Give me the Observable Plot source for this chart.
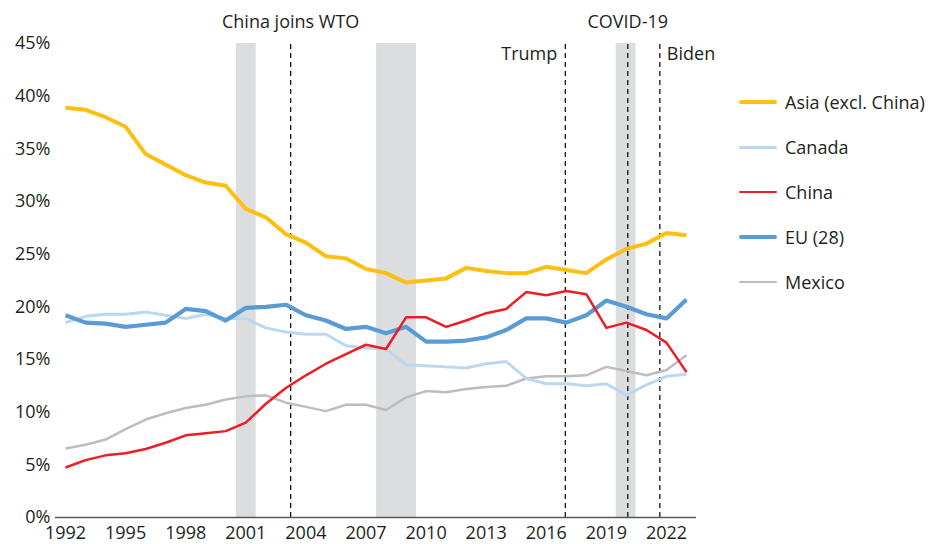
<!DOCTYPE html>
<html><head><meta charset="utf-8">
<script src="https://cdn.jsdelivr.net/npm/d3@7"></script>
<script src="https://cdn.jsdelivr.net/npm/@observablehq/plot@0.6"></script>
<style>
body{margin:0;background:#fff;font-family:"Open Sans",sans-serif;}
#wrap{position:relative;width:933px;height:544px;}
#legend{position:absolute;left:739px;top:0;}
.item{position:absolute;left:0;height:26px;display:flex;align-items:center;white-space:nowrap;font-size:18px;color:#231f20;}
.sw{width:38px;margin-right:8px;border-radius:2px;}
</style></head><body>
<div id="wrap"><div id="chart"></div><div id="legend"></div></div>
<script>
const years = [1992,1993,1994,1995,1996,1997,1998,1999,2000,2001,2002,2003,2004,2005,2006,2007,2008,2009,2010,2011,2012,2013,2014,2015,2016,2017,2018,2019,2020,2021,2022,2023];
const seriesNames = ["Asia (excl. China)","Canada","China","EU (28)","Mexico"];
const asia   = [38.9,38.7,38.0,37.1,34.5,33.5,32.5,31.8,31.5,29.3,28.5,26.9,26.1,24.8,24.6,23.6,23.2,22.3,22.5,22.7,23.7,23.4,23.2,23.2,23.8,23.5,23.2,24.5,25.5,26.0,27.0,26.8];
const canada = [18.5,19.1,19.3,19.3,19.5,19.2,18.9,19.3,18.9,18.9,18.0,17.6,17.4,17.4,16.3,16.1,16.0,14.5,14.4,14.3,14.2,14.6,14.8,13.2,12.7,12.7,12.5,12.7,11.6,12.6,13.4,13.6];
const china  = [4.75,5.45,5.9,6.1,6.5,7.1,7.8,8.0,8.2,9.0,10.8,12.3,13.5,14.6,15.5,16.4,16.0,19.0,19.0,18.1,18.7,19.4,19.8,21.4,21.1,21.5,21.2,18.0,18.5,17.8,16.6,13.8];
const eu     = [19.2,18.5,18.4,18.1,18.3,18.5,19.8,19.6,18.7,19.9,20.0,20.2,19.2,18.7,17.9,18.1,17.5,18.1,16.7,16.7,16.8,17.1,17.8,18.9,18.9,18.5,19.2,20.6,20.0,19.3,18.9,20.7];
const mexico = [6.55,6.9,7.4,8.4,9.3,9.9,10.4,10.7,11.2,11.5,11.6,10.9,10.5,10.1,10.7,10.7,10.2,11.4,12.0,11.9,12.2,12.4,12.5,13.2,13.4,13.4,13.5,14.3,13.9,13.5,14.0,15.4];
const seriesValues = [asia, canada, china, eu, mexico];
const seriesColors = ["#fcbf12","#bcd8f0","#ee1c25","#5b9bd5","#bdbdc1"];
const seriesWidths = [4, 3, 2.5, 4.2, 2.5];
const drawOrder = [4, 1, 3, 2, 0];

const bandStart = [2000.53, 2007.53, 2019.49];
const bandEnd   = [2001.52, 2009.52, 2020.48];
const eventNames = ["China joins WTO","Trump","COVID-19","Biden"];
const eventYears = [2003.24, 2016.95, 2020.07, 2021.67];
const xTicks = [1992,1995,1998,2001,2004,2007,2010,2013,2016,2019,2022];
const yTicks = [0,5,10,15,20,25,30,35,40,45];

const bands = bandStart.map((s,i)=>({x1:s,x2:bandEnd[i]}));
const events = eventNames.map((n,i)=>({name:n,year:eventYears[i]}));
const txt = "#231f20";

const lineMarks = drawOrder.map(k => Plot.line(years.map((y,i)=>({year:y, v:seriesValues[k][i]})), {
  x:"year", y:"v", stroke: seriesColors[k], strokeWidth: seriesWidths[k], strokeLinejoin:"round", strokeLinecap:"butt"
}));

const chart = Plot.plot({
  width: 933, height: 544,
  marginLeft: 55, marginRight: 237, marginTop: 43, marginBottom: 27,
  style: {fontFamily: "'Open Sans', sans-serif", fontSize: "18px", color: txt, background: "#fff"},
  x: {domain: [1991.5, 2023.5]},
  y: {domain: [0, 45]},
  marks: [
    Plot.rect(bands, {x1:"x1", x2:"x2", y1:0, y2:45, fill:"#dcdddf"}),
    Plot.ruleX(events, {x:"year", y1:0, y2:45, stroke:"#111", strokeWidth:1.3, strokeDasharray:"5,4"}),
    Plot.ruleY([0], {stroke:"#58595b", strokeWidth:1.6}),
    ...lineMarks,
    Plot.axisY({ticks: yTicks, tickFormat: d => d + "%", tickSize: 0, tickPadding: 5, label: null, fill: txt}),
    Plot.axisX({ticks: xTicks, tickFormat: d => String(d), tickSize: 0, tickPadding: 9, label: null, fill: txt}),
    Plot.text(events.filter(e=>e.name==="China joins WTO"||e.name==="COVID-19"), {x:"year", text:"name", frameAnchor:"top", lineAnchor:"middle", dy:-21, textAnchor:"middle", fill:txt, fontSize:18}),
    Plot.text(events.filter(e=>e.name==="Trump"), {x:"year", text:"name", frameAnchor:"top", lineAnchor:"middle", dy:11, dx:-8, textAnchor:"end", fill:txt, fontSize:18}),
    Plot.text(events.filter(e=>e.name==="Biden"), {x:"year", text:"name", frameAnchor:"top", lineAnchor:"middle", dy:11, dx:7, textAnchor:"start", fill:txt, fontSize:18})
  ]
});
document.getElementById("chart").appendChild(chart);

const legend = document.getElementById("legend");
seriesNames.forEach((n,i)=>{
  const it = document.createElement("div");
  it.className = "item";
  it.style.top = (102 + i*45 - 13) + "px";
  const sw = document.createElement("span");
  sw.className = "sw";
  sw.style.height = seriesWidths[i] + "px";
  sw.style.background = seriesColors[i];
  it.appendChild(sw);
  it.appendChild(document.createTextNode(n));
  legend.appendChild(it);
});
</script>
</body></html>
